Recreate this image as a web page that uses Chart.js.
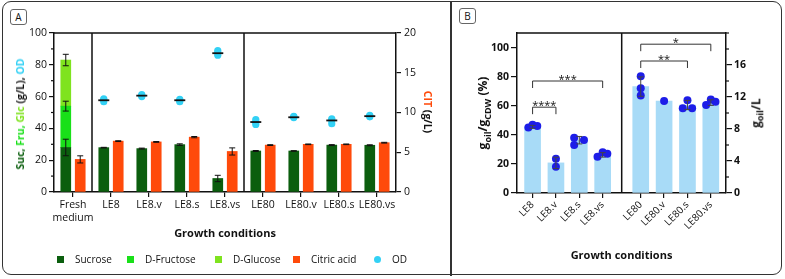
<!DOCTYPE html>
<html lang="en">
<head>
<meta charset="UTF-8">
<title>Sugar consumption, citric acid and oil yield</title>
<script src="https://cdn.jsdelivr.net/npm/chart.js"></script>
<style>
  body { margin: 0; background: #fff; font-family: "Open Sans", sans-serif; color: #111; }
  #wrap { position: relative; width: 785px; height: 279px; overflow: hidden; }
  .frame { position: absolute; left: 2px; top: 1px; width: 778px; height: 272px; border: 1.5px solid #333; border-radius: 9px; }
  .divider { position: absolute; left: 450px; top: 1px; width: 1.5px; height: 275px; background: #333; }
  .tag { position: absolute; width: 15px; height: 14px; border: 1px solid #666; border-radius: 3px; font-size: 10px; line-height: 14px; text-align: center; }
  canvas { position: absolute; top: 0; }
  .vtitle { position: absolute; font-weight: bold; white-space: nowrap; transform: translate(-50%, -50%) rotate(-90deg); }
  .vtitle.cw { transform: translate(-50%, -50%) rotate(90deg); }
  .vtitle sub { font-size: 75%; }
  .leg { position: absolute; top: 252px; font-size: 10px; display: flex; align-items: center; }
  .leg i { display: inline-block; width: 7px; height: 7px; margin-right: 11px; }
</style>
</head>
<body>
<div id="wrap">
  <div class="frame"></div>
  <div class="divider"></div>
  <div class="tag" style="left:10px; top:9px;">A</div>
  <div class="tag" style="left:459px; top:8px;">B</div>

  <canvas id="cA" width="450" height="279" style="left:0;"></canvas>
  <canvas id="cB" width="334" height="279" style="left:451px;"></canvas>

  <!-- axis titles with coloured parts -->
  <div class="vtitle" style="left:20px; top:114px; font-size:10.5px;">
    <span style="color:#0b5e0e">Suc,</span> <span style="color:#19e019">Fru,</span> <span style="color:#7fe31f">Glc</span> (g/L), <span style="color:#33d1f5">OD</span>
  </div>
  <div class="vtitle cw" style="left:428px; top:112px; font-size:10.5px;">
    <span style="color:#ff4a0a">CIT</span> (g/L)
  </div>
  <div class="vtitle" style="left:484px; top:113px; font-size:12px;">g<sub>oil</sub>/g<sub>CDW</sub> (%)</div>
  <div class="vtitle" style="left:757px; top:113px; font-size:12px;">g<sub>oil</sub>/L</div>

  <!-- legend of panel A -->
  <div class="leg" style="left:57px;"><i style="background:#0b5e0e"></i>Sucrose</div>
  <div class="leg" style="left:127px;"><i style="background:#19e019"></i>D-Fructose</div>
  <div class="leg" style="left:215px;"><i style="background:#7fe31f"></i>D-Glucose</div>
  <div class="leg" style="left:293px;"><i style="background:#ff4a0a"></i>Citric acid</div>
  <div class="leg" style="left:374px;"><i style="background:#33d1f5; border-radius:50%"></i>OD</div>
</div>

<script>
// ---- panel A data ----
const catsA = [['Fresh', 'medium'], 'LE8', 'LE8.v', 'LE8.s', 'LE8.vs', 'LE80', 'LE80.v', 'LE80.s', 'LE80.vs'];
const sucrose    = [28, 27.9, 27.3, 29.8, 8.5, 25.8, 25.8, 29.5, 29.4];
const sucroseErr = [5.2, 0.2, 0.3, 0.5, 2.0, 0.3, 0.2, 0.3, 0.3];
const fructose    = [26, null, null, null, null, null, null, null, null];
const fructoseErr = [3.1];
const glucose    = [29, null, null, null, null, null, null, null, null];
const glucoseErr = [3.6];
const citric    = [4.1, 6.4, 6.3, 6.9, 5.1, 5.9, 6.0, 6.0, 6.2];
const citricErr = [0.45, 0.05, 0.05, 0.08, 0.45, 0.05, 0.04, 0.04, 0.05];
const odReps = [[], [56.8, 58.6, 58.0], [60.0, 61.3, 60.6], [56.8, 58.2, 57.6], [86.0, 89.0, 87.6],
                [42.5, 45.6, 44.0], [46.8, 47.6, 47.2], [43.0, 46.0, 45.2], [47.3, 48.2, 47.8]];
const odMean = [null, 57.7, 60.6, 57.7, 87.3, 44.0, 47.0, 45.0, 47.7];
const groupBreaksA = [0.5, 4.5];

// ---- panel B data ----
const catsB = ['LE8', 'LE8.v', 'LE8.s', 'LE8.vs', 'LE80', 'LE80.v', 'LE80.s', 'LE80.vs'];
const oilPct   = [45.5, 20.7, 36.3, 26.2];   // LE8 group, % of CDW
const oilTiter = [13.3, 11.5, 11.0, 11.3];   // LE80 group, g/L
const repsPct   = [[45.0, 47.0, 46.0], [23.5, 18.0], [38.0, 33.0, 36.5], [25.0, 28.0, 27.0]];
const repsTiter = [[14.6, 13.1, 12.2], [11.5], [11.6, 10.6, 10.6], [11.0, 11.7, 11.4]];
const jitterB = [[-0.18, 0, 0.2], [0, 0], [-0.22, -0.22, 0.2], [-0.22, 0, 0.2],
                 [0, 0, 0], [0], [0, -0.2, 0.2], [-0.2, 0, 0.2]];
const bracketsB = [
  { from: 0, to: 1, y: 59,   label: '****', axis: 'yL' },
  { from: 0, to: 3, y: 77,   label: '***',  axis: 'yL' },
  { from: 4, to: 6, y: 16.5, label: '**',   axis: 'yR' },
  { from: 4, to: 7, y: 18.6, label: '*',    axis: 'yR' }
];
const groupGapB = 0.63;

const C = { suc: '#0b5e0e', fru: '#19e019', glc: '#7fe31f', cit: '#ff4a0a', od: '#33d1f5',
            bar: '#a8dbf7', dot: '#1d1de8' };
const font = { family: '"Open Sans", sans-serif' };

// error bars for datasets that carry an "errors" array
const errorBars = {
  id: 'errorBars',
  afterDatasetsDraw(chart) {
    const ctx = chart.ctx;
    chart.data.datasets.forEach((ds, i) => {
      if (!ds.errors) return;
      const meta = chart.getDatasetMeta(i);
      const scale = chart.scales[meta.yAxisID];
      meta.data.forEach((el, j) => {
        const e = ds.errors[j];
        if (e == null || ds.data[j].y == null) return;
        const top = scale.getValueForPixel(el.y);
        const y1 = scale.getPixelForValue(top + e), y2 = scale.getPixelForValue(top - e);
        ctx.save();
        ctx.strokeStyle = ds.errColor || '#111';
        ctx.lineWidth = 1;
        ctx.beginPath();
        ctx.moveTo(el.x, y1); ctx.lineTo(el.x, y2);
        ctx.moveTo(el.x - 3, y1); ctx.lineTo(el.x + 3, y1);
        ctx.moveTo(el.x - 3, y2); ctx.lineTo(el.x + 3, y2);
        ctx.stroke();
        ctx.restore();
      });
    });
  }
};

// top border of plot box + vertical separators between groups
function boxPlugin(breaks) {
  return {
    id: 'box',
    beforeDatasetsDraw(chart) {
      const { ctx, chartArea: { left, right, top, bottom }, scales: { x } } = chart;
      ctx.save();
      ctx.strokeStyle = '#111';
      ctx.lineWidth = 1.5;
      ctx.beginPath();
      ctx.moveTo(left, top); ctx.lineTo(right, top);
      breaks.forEach(v => {
        const px = x.getPixelForValue(v);
        ctx.moveTo(px, top); ctx.lineTo(px, bottom);
      });
      ctx.stroke();
      ctx.restore();
    }
  };
}

// short ticks for the unlabelled (minor) values of the y axes
const minorTicks = {
  id: 'minorTicks',
  afterDraw(chart) {
    const ctx = chart.ctx;
    ctx.save();
    ctx.strokeStyle = '#111';
    ctx.lineWidth = 1.2;
    Object.values(chart.scales).forEach(s => {
      if (s.axis !== 'y' || !s.options.display) return;
      const edge = s.position === 'left' ? s.right : s.left;
      const dir = s.position === 'left' ? -1 : 1;
      s.ticks.forEach(t => {
        if (t.label !== '') return;
        const y = s.getPixelForValue(t.value);
        ctx.beginPath();
        ctx.moveTo(edge, y); ctx.lineTo(edge + dir * 3, y);
        ctx.stroke();
      });
    });
    ctx.restore();
  }
};

const axisLine = { color: '#111', width: 1.5 };
const majorOnly = c => (c.tick && c.tick.label === '') ? 'rgba(0,0,0,0)' : '#111';
const tickGrid = { drawOnChartArea: false, tickLength: 5, color: '#111', tickColor: majorOnly, lineWidth: 1.2, offset: false };

// ---------- Chart A ----------
const barShiftA = 0.19;   // sugars left of the category centre, citric acid right
const pts = (vals, shift) => vals.map((v, i) => ({ x: i + shift, y: v }));
const odPoints = odReps.flatMap((reps, i) => reps.map(v => ({ x: i - barShiftA, y: v })));
const odMeanPts = pts(odMean, -barShiftA).filter(p => p.y != null);
const barA = { grouped: false, barThickness: 10, borderWidth: 0, order: 2 };

new Chart(document.getElementById('cA'), {
  type: 'bar',
  data: {
    datasets: [
      { type: 'scatter', label: 'OD mean', data: odMeanPts, yAxisID: 'yOD',
        pointStyle: 'line', pointRadius: 5.5, borderColor: '#111', borderWidth: 1.8, order: 0 },
      { type: 'scatter', label: 'OD', data: odPoints, yAxisID: 'yOD',
        backgroundColor: C.od, borderColor: C.od, borderWidth: 0, pointRadius: 3.6, order: 1 },
      { ...barA, label: 'Sucrose', data: pts(sucrose, -barShiftA), errors: sucroseErr, stack: 'sugars', yAxisID: 'y', backgroundColor: C.suc },
      { ...barA, label: 'D-Fructose', data: pts(fructose, -barShiftA), errors: fructoseErr, stack: 'sugars', yAxisID: 'y', backgroundColor: C.fru },
      { ...barA, label: 'D-Glucose', data: pts(glucose, -barShiftA), errors: glucoseErr, stack: 'sugars', yAxisID: 'y', backgroundColor: C.glc },
      { ...barA, label: 'Citric acid', data: pts(citric, barShiftA), errors: citricErr, stack: 'cit', yAxisID: 'y2', backgroundColor: C.cit }
    ]
  },
  options: {
    responsive: false,
    animation: false,
    layout: { padding: { top: 33, bottom: 35, left: 0, right: 0 } },
    plugins: { legend: { display: false }, tooltip: { enabled: false } },
    scales: {
      x: {
        type: 'linear', offset: false, min: -0.5, max: catsA.length - 0.5,
        afterBuildTicks(s) { s.ticks = catsA.map((c, i) => ({ value: i })); },
        grid: { ...tickGrid, tickColor: '#111' },
        border: axisLine,
        ticks: { callback: (v, i) => catsA[i], font: { ...font, size: 10.5 }, color: '#111', padding: 2, maxRotation: 0, autoSkip: false },
        title: { display: true, text: 'Growth conditions', color: '#111',
                 font: { ...font, size: 11, weight: 'bold' }, padding: { top: 0, bottom: 4 } },
        afterFit(s) { s.height = 52; }
      },
      y: {
        stacked: true, min: 0, max: 100,
        ticks: { stepSize: 10, callback: v => v % 20 === 0 ? v : '', font: { ...font, size: 10.5 }, color: '#111', padding: 2 },
        grid: tickGrid, border: axisLine,
        afterFit(s) { s.width = 54; }
      },
      yOD: { display: false, min: 0, max: 100 },
      y2: {
        position: 'right', min: 0, max: 20,
        ticks: { stepSize: 5, font: { ...font, size: 10.5 }, color: '#111', padding: 3 },
        grid: tickGrid, border: axisLine,
        afterFit(s) { s.width = 54; }
      }
    }
  },
  plugins: [boxPlugin(groupBreaksA), errorBars, minorTicks]
});

// ---------- Chart B ----------
const posB = catsB.map((c, i) => i + (i >= 4 ? groupGapB : 0));
const sd = a => {
  if (a.length < 2) return null;
  const m = a.reduce((s, v) => s + v, 0) / a.length;
  return Math.sqrt(a.reduce((s, v) => s + (v - m) ** 2, 0) / (a.length - 1));
};
const dotsPct = repsPct.flatMap((reps, i) => reps.map((v, k) => ({ x: posB[i] + jitterB[i][k], y: v })));
const dotsTiter = repsTiter.flatMap((reps, i) => reps.map((v, k) => ({ x: posB[i + 4] + jitterB[i + 4][k], y: v })));

const bracketPlugin = {
  id: 'brackets',
  afterDatasetsDraw(chart) {
    const { ctx, scales } = chart;
    ctx.save();
    ctx.strokeStyle = '#333';
    ctx.fillStyle = '#111';
    ctx.lineWidth = 1;
    ctx.font = '11px "Open Sans", sans-serif';
    ctx.textAlign = 'center';
    ctx.textBaseline = 'alphabetic';
    bracketsB.forEach(b => {
      const x1 = scales.x.getPixelForValue(posB[b.from]);
      const x2 = scales.x.getPixelForValue(posB[b.to]);
      const y = scales[b.axis].getPixelForValue(b.y);
      ctx.beginPath();
      ctx.moveTo(x1, y + 7); ctx.lineTo(x1, y); ctx.lineTo(x2, y); ctx.lineTo(x2, y + 7);
      ctx.stroke();
      ctx.fillText(b.label, (x1 + x2) / 2, y + 2);
    });
    ctx.restore();
  }
};

new Chart(document.getElementById('cB'), {
  type: 'bar',
  data: {
    datasets: [
      { type: 'scatter', label: 'LE8 replicates', data: dotsPct, yAxisID: 'yL',
        backgroundColor: C.dot, borderWidth: 0, pointRadius: 4, order: 0 },
      { type: 'scatter', label: 'LE80 replicates', data: dotsTiter, yAxisID: 'yR',
        backgroundColor: C.dot, borderWidth: 0, pointRadius: 4, order: 0 },
      { label: 'LE8 oil content', data: oilPct.map((v, i) => ({ x: posB[i], y: v })), yAxisID: 'yL',
        errors: repsPct.map(sd), errColor: '#444', backgroundColor: C.bar, grouped: false, barThickness: 16, order: 1 },
      { label: 'LE80 oil titer', data: oilTiter.map((v, i) => ({ x: posB[i + 4], y: v })), yAxisID: 'yR',
        errors: repsTiter.map(sd), errColor: '#444', backgroundColor: C.bar, grouped: false, barThickness: 16, order: 1 }
    ]
  },
  options: {
    responsive: false,
    animation: false,
    layout: { padding: { top: 33, bottom: 13, left: 0, right: 0 } },
    plugins: { legend: { display: false }, tooltip: { enabled: false } },
    scales: {
      x: {
        type: 'linear', offset: false, min: -0.667, max: posB[posB.length - 1] + 0.65,
        afterBuildTicks(s) { s.ticks = posB.map(v => ({ value: v })); },
        ticks: { callback: (v, i) => catsB[i], autoSkip: false, minRotation: 45, maxRotation: 45,
                 font: { ...font, size: 10 }, color: '#111', padding: 1 },
        grid: { ...tickGrid, tickColor: '#111' }, border: axisLine,
        title: { display: true, text: 'Growth conditions', color: '#111',
                 font: { ...font, size: 11, weight: 'bold' }, padding: { top: 0, bottom: 4 } },
        afterFit(s) { s.height = 73; }
      },
      yL: {
        position: 'left', min: 0, max: 110,
        ticks: { stepSize: 10, callback: v => (v % 20 === 0 && v <= 100) ? v : '',
                 font: { ...font, size: 10.5, weight: 'bold' }, color: '#111', padding: 2 },
        grid: { ...tickGrid, tickLength: 6 }, border: axisLine,
        afterFit(s) { s.width = 66; }
      },
      yR: {
        position: 'right', min: 0, max: 20,
        ticks: { stepSize: 2, callback: v => (v % 4 === 0 && v < 20) ? v : '',
                 font: { ...font, size: 10.5, weight: 'bold' }, color: '#111', padding: 2 },
        grid: { ...tickGrid, tickLength: 6 }, border: axisLine,
        afterFit(s) { s.width = 59; }
      }
    }
  },
  plugins: [boxPlugin([(posB[3] + posB[4]) / 2]), errorBars, bracketPlugin, minorTicks]
});
</script>
</body>
</html>
